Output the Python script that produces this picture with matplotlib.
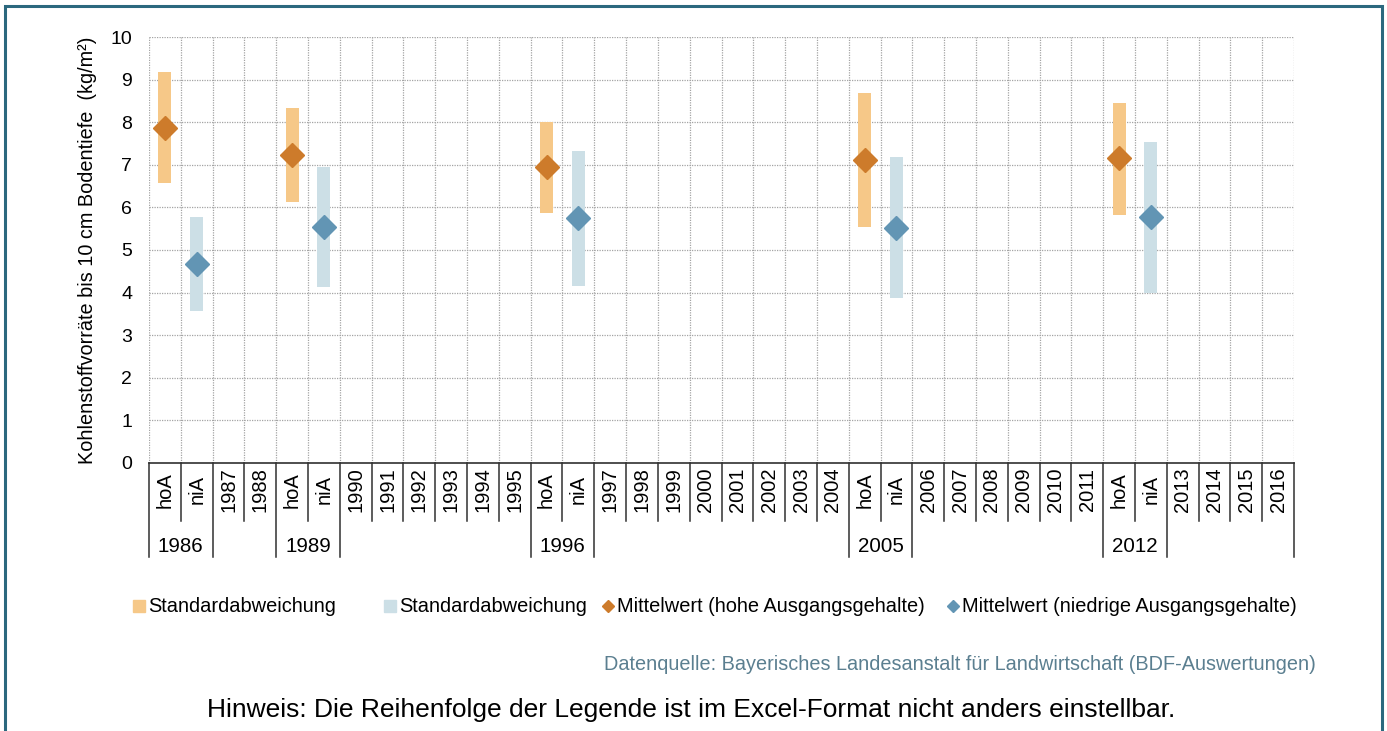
import matplotlib
matplotlib.use('Agg')
import matplotlib.pyplot as plt
from matplotlib.lines import Line2D
from matplotlib.patches import Rectangle

plt.rcParams['font.family'] = ['Liberation Sans', 'DejaVu Sans']

# Kategorien der x-Achse (innere Ebene) und Jahresgruppen (äußere Ebene)
categories = ['hoA', 'niA', '1987', '1988', 'hoA', 'niA', '1990', '1991', '1992', '1993',
              '1994', '1995', 'hoA', 'niA', '1997', '1998', '1999', '2000', '2001', '2002',
              '2003', '2004', 'hoA', 'niA', '2006', '2007', '2008', '2009', '2010', '2011',
              'hoA', 'niA', '2013', '2014', '2015', '2016']
survey_years = ['1986', '1989', '1996', '2005', '2012']

# Werte (kg/m²)
hoa_mean = [7.87, 7.22, 6.94, 7.11, 7.15]
hoa_low = [6.57, 6.12, 5.87, 5.53, 5.82]
hoa_high = [9.17, 8.33, 8.01, 8.68, 8.46]
nia_mean = [4.68, 5.53, 5.76, 5.52, 5.77]
nia_low = [3.57, 4.12, 4.16, 3.87, 3.99]
nia_high = [5.78, 6.96, 7.33, 7.18, 7.54]

C_HOA_BAR = '#F6C888'
C_HOA_PT = '#CD7B2B'
C_NIA_BAR = '#CCDFE6'
C_NIA_PT = '#6295B4'
C_FRAME = '#2B687E'

W, H = 1387, 731
fig = plt.figure(figsize=(W / 100, H / 100), dpi=100)


def fx(px):
    return px / W


def fy(py):
    return 1 - py / H


ax_left, ax_right, ax_top, ax_bottom = 149, 1294, 37, 463
ax = fig.add_axes([fx(ax_left), fy(ax_bottom), fx(ax_right - ax_left), (ax_bottom - ax_top) / H])

n = len(categories)
hoa_x = [i for i, c in enumerate(categories) if c == 'hoA']
nia_x = [i for i, c in enumerate(categories) if c == 'niA']

# Standardabweichung als Balken, Mittelwert als Raute
ax.bar(hoa_x, [h - l for h, l in zip(hoa_high, hoa_low)], bottom=hoa_low, width=0.41,
       color=C_HOA_BAR, zorder=3)
ax.bar(nia_x, [h - l for h, l in zip(nia_high, nia_low)], bottom=nia_low, width=0.41,
       color=C_NIA_BAR, zorder=3)
ax.plot(hoa_x, hoa_mean, linestyle='none', marker='D', markersize=12.5, color=C_HOA_PT, zorder=4)
ax.plot(nia_x, nia_mean, linestyle='none', marker='D', markersize=12.5, color=C_NIA_PT, zorder=4)

ax.set_xlim(-0.5, n - 0.5)
ax.set_ylim(0, 10)
ax.set_yticks(range(0, 11))
ax.tick_params(axis='y', length=0, pad=12, labelsize=14)
ax.set_xticks([])

# Gitter
for yv in range(1, 11):
    ax.axhline(yv, color='#A4A4A4', linestyle=(0, (1, 1)), linewidth=0.9, zorder=1)
for b in range(n + 1):
    ax.axvline(b - 0.5, color='#A4A4A4', linestyle=(0, (1, 1)), linewidth=0.9, zorder=1)

for s in ['top', 'right', 'left']:
    ax.spines[s].set_visible(False)
ax.spines['bottom'].set_color('#303030')
ax.spines['bottom'].set_linewidth(1.2)

ax.set_ylabel('Kohlenstoffvorräte bis 10 cm Bodentiefe  (kg/m²)', fontsize=14.3, labelpad=10)

# mehrstufige Kategorienachse
tr = ax.get_xaxis_transform()
ah = ax_bottom - ax_top
row1 = -(521 - ax_bottom) / ah
row2 = -(557 - ax_bottom) / ah
lab1 = -(490 - ax_bottom) / ah
lab2 = -(546 - ax_bottom) / ah

for i, c in enumerate(categories):
    ax.text(i, lab1, c, transform=tr, rotation=90, ha='center', va='center', fontsize=14.5)

long_bounds = {-0.5, n - 0.5}
for hx, nx_ in zip(hoa_x, nia_x):
    long_bounds.add(hx - 0.5)
    long_bounds.add(nx_ + 0.5)
for b in range(n + 1):
    xb = b - 0.5
    bottom = row2 if xb in long_bounds else row1
    ax.plot([xb, xb], [0, bottom], transform=tr, color='#303030', linewidth=1.1, clip_on=False)

for yr, hx, nx_ in zip(survey_years, hoa_x, nia_x):
    ax.text((hx + nx_) / 2, lab2, yr, transform=tr, ha='center', va='center', fontsize=14.8)

# Legende (manuell positioniert wie im Original)
ly = 606
legend_items = [
    (139, 's', C_HOA_BAR, 'Standardabweichung'),
    (390, 's', C_NIA_BAR, 'Standardabweichung'),
    (608, 'D', C_HOA_PT, 'Mittelwert (hohe Ausgangsgehalte)'),
    (953, 'D', C_NIA_PT, 'Mittelwert (niedrige Ausgangsgehalte)'),
]
for px, mk, col, txt in legend_items:
    ms = 8 if mk == 's' else 5.8
    fig.add_artist(Line2D([fx(px)], [fy(ly)], marker=mk, markersize=ms, color=col,
                          linestyle='none', transform=fig.transFigure))
    fig.text(fx(px + 9), fy(ly), txt, ha='left', va='center', fontsize=14.4)

fig.text(fx(1316), fy(665), 'Datenquelle: Bayerisches Landesanstalt für Landwirtschaft (BDF-Auswertungen)',
         ha='right', va='center', fontsize=14.3, color='#5B7F90')
fig.text(fx(691), fy(710), 'Hinweis: Die Reihenfolge der Legende ist im Excel-Format nicht anders einstellbar.',
         ha='center', va='center', fontsize=19)

# Rahmen
fig.add_artist(Rectangle((fx(5), fy(760)), fx(1382 - 5), (760 - 6) / H, transform=fig.transFigure,
                         fill=False, edgecolor=C_FRAME, linewidth=2.2))

fig.savefig('out.png', dpi=100)
